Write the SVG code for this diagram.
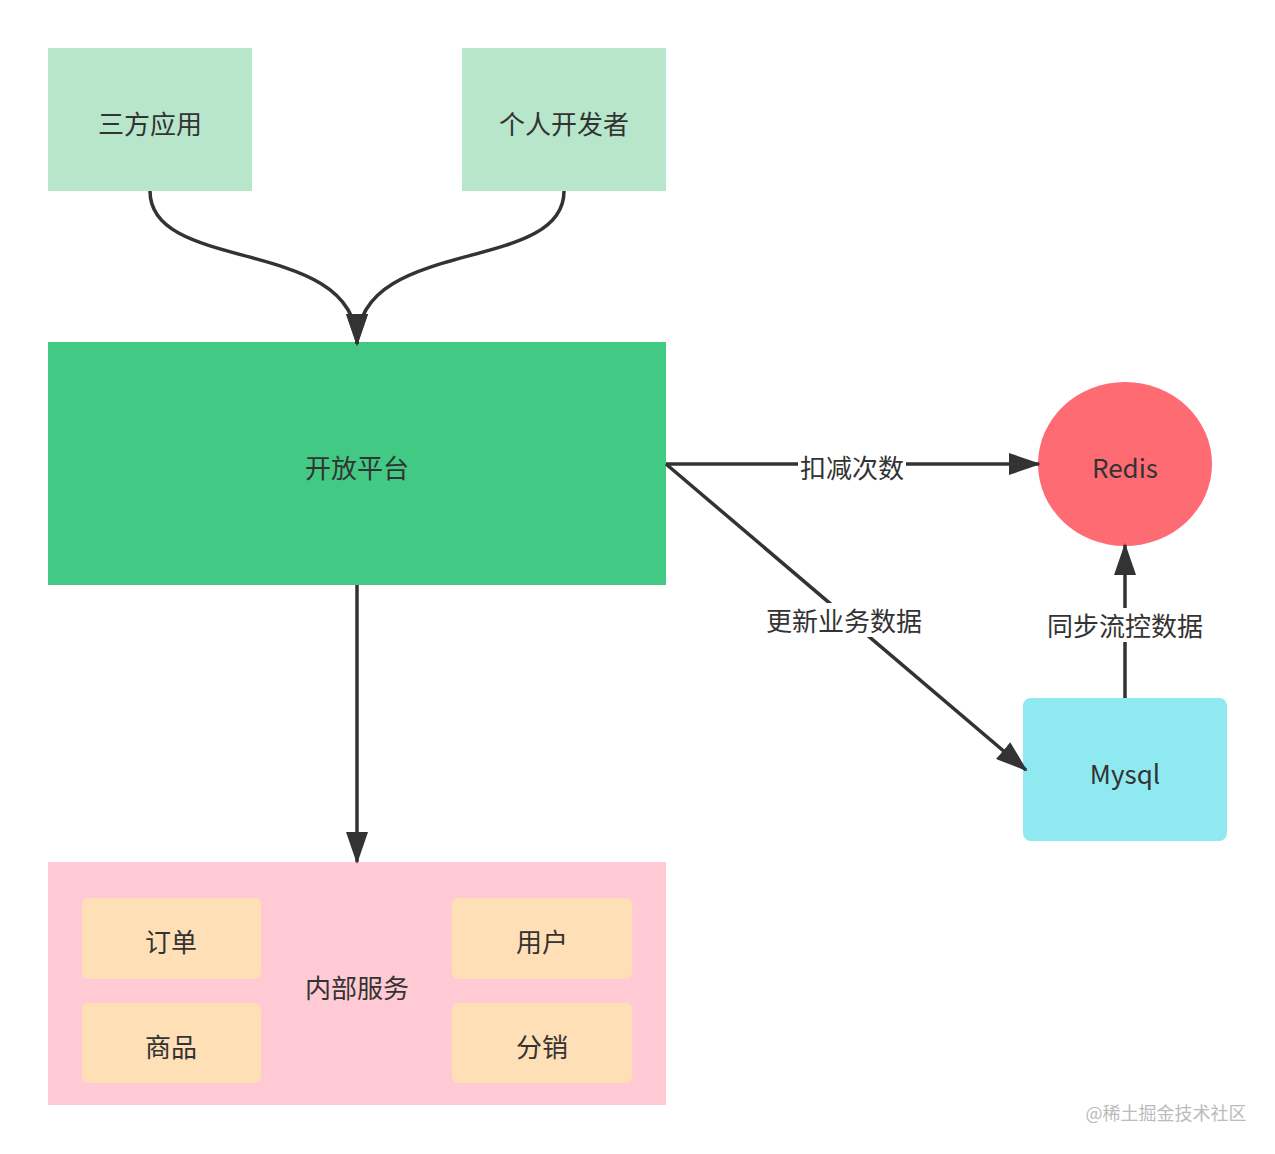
<svg xmlns="http://www.w3.org/2000/svg" width="1275" height="1154" viewBox="0 0 1275 1154">
<style>
text{font-family:"Noto Sans CJK SC","Noto Sans",sans-serif;font-size:26px;fill:#333;text-anchor:middle;dominant-baseline:central}
.c{fill:none;stroke:#333;stroke-width:3.5}
.lbl{fill:#fff}
</style>
<defs>
<marker id="ah" markerUnits="userSpaceOnUse" viewBox="0 0 32 22" refX="30" refY="11" markerWidth="32" markerHeight="22" orient="auto">
<path d="M0,0 L32,11 L0,22 z" fill="#333"/>
</marker>
</defs>
<rect width="1275" height="1154" fill="#fff"/>
<g id="n-sanfang"><rect x="48" y="48" width="204" height="143" fill="#b8e6cb"/><text x="150" y="122">三方应用</text></g>
<g id="n-geren"><rect x="462" y="48" width="204" height="143" fill="#b8e6cb"/><text x="564" y="122">个人开发者</text></g>
<g id="n-open"><rect x="48" y="342" width="618" height="243" fill="#42c984"/><text x="357" y="466">开放平台</text></g>
<g id="n-redis"><ellipse cx="1125" cy="464" rx="87" ry="82" fill="#ff6b72"/><text x="1125" y="466">Redis</text></g>
<g id="n-mysql"><rect x="1023" y="698" width="204" height="143" rx="8" fill="#8fe9f0"/><text x="1125" y="772">Mysql</text></g>
<g id="n-internal"><rect x="48" y="862" width="618" height="243" fill="#ffcad4"/><text x="357" y="986">内部服务</text>
<g id="n-order"><rect x="82" y="898" width="179" height="81" rx="6" fill="#ffdfb5"/><text x="171" y="940">订单</text></g>
<g id="n-user"><rect x="452" y="898" width="180" height="81" rx="6" fill="#ffdfb5"/><text x="542" y="940">用户</text></g>
<g id="n-goods"><rect x="82" y="1003" width="179" height="80" rx="6" fill="#ffdfb5"/><text x="171" y="1045">商品</text></g>
<g id="n-dist"><rect x="452" y="1003" width="180" height="80" rx="6" fill="#ffdfb5"/><text x="542" y="1045">分销</text></g>
</g>
<g id="connectors">
<path class="c" d="M150,191 C150,275 357,235 357,344" marker-end="url(#ah)"/>
<path class="c" d="M564,191 C564,275 357,235 357,344" marker-end="url(#ah)"/>
<path class="c" d="M357,585 L357,862" marker-end="url(#ah)"/>
<path class="c" d="M666,464 L1039,464" marker-end="url(#ah)"/>
<path class="c" d="M666,464 L1026,770" marker-end="url(#ah)"/>
<path class="c" d="M1125,698 L1125,545" marker-end="url(#ah)"/>
<rect class="lbl" x="798" y="450" width="108" height="34"/>
<text x="852" y="466">扣减次数</text>
<rect class="lbl" x="766" y="603" width="156" height="34"/>
<text x="844" y="619">更新业务数据</text>
<rect class="lbl" x="1047" y="608" width="156" height="34"/>
<text x="1125" y="624">同步流控数据</text>
</g>
<text x="1166" y="1112" style="font-size:18px;fill:#bbb">@稀土掘金技术社区</text>
</svg>
